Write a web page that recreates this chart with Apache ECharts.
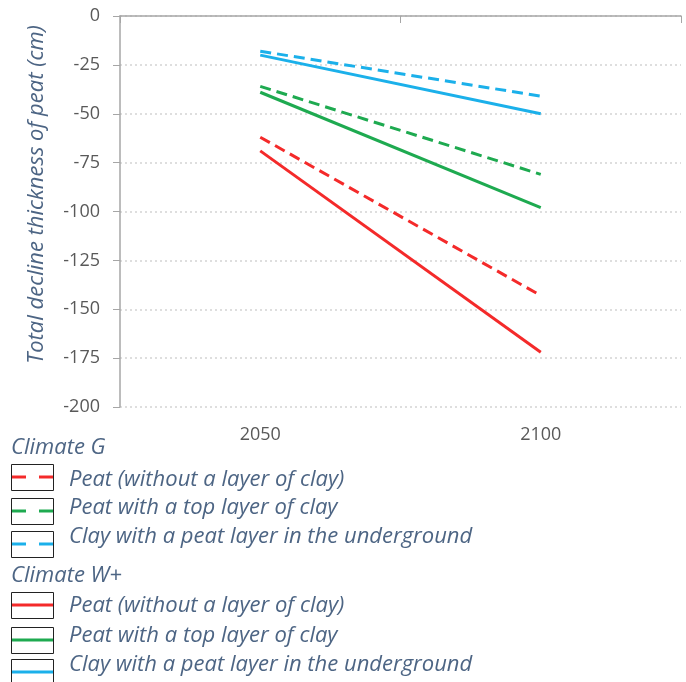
<!DOCTYPE html>
<html><head><meta charset="utf-8">
<script src="https://cdn.jsdelivr.net/npm/echarts@6/dist/echarts.min.js"></script>
<style>html,body{margin:0;padding:0;background:#fff}#c{width:686px;height:682px}</style>
</head><body><div id="c"></div>
<script>
const categories = ['2050', '2100'];
const yTicksMin = -200, yTicksMax = 0, yTickStep = 25;
const yTitle = 'Total decline thickness of peat (cm)';
const groupG = 'Climate G';
const groupW = 'Climate W+';
const seriesNames = ['Peat (without a layer of clay)', 'Peat with a top layer of clay', 'Clay with a peat layer in the underground'];
const gPeat = [-62, -143];
const gTopClay = [-36, -81];
const gClayPeat = [-18, -41];
const wPeat = [-69, -172];
const wTopClay = [-39, -98];
const wClayPeat = [-20, -50];

const colors = ['#f42a2a', '#1eaa50', '#1bb0ea'];
const textColor = '#4d6584';
const fontFam = '"Open Sans", sans-serif';

function mk(name, data, color, dashed) {
  return {
    name: name, type: 'line', data: data, symbol: 'none', silent: true,
    lineStyle: { color: color, width: 3, type: dashed ? [11, 6] : 'solid', cap: 'butt' },
    z: dashed ? 3 : 2
  };
}

const series = [
  mk('G ' + seriesNames[0], gPeat, colors[0], true),
  mk('G ' + seriesNames[1], gTopClay, colors[1], true),
  mk('G ' + seriesNames[2], gClayPeat, colors[2], true),
  mk('W ' + seriesNames[0], wPeat, colors[0], false),
  mk('W ' + seriesNames[1], wTopClay, colors[1], false),
  mk('W ' + seriesNames[2], wClayPeat, colors[2], false)
];

// custom legend
const graphic = [];
const legendFont = 'italic 22px ' + fontFam;
function addHeader(txt, cy) {
  graphic.push({ type: 'text', style: { x: 11, y: cy, text: txt, font: legendFont, fill: textColor, verticalAlign: 'middle', align: 'left' } });
}
function addRow(label, color, dashed, boxTop, cy) {
  graphic.push({ type: 'rect', shape: { x: 11.5, y: boxTop + 0.5, width: 42, height: 26 }, style: { fill: '#fff', stroke: '#222', lineWidth: 1 } });
  const ly = boxTop + 13;
  if (dashed) {
    graphic.push({ type: 'line', shape: { x1: 12, y1: ly, x2: 26, y2: ly }, style: { stroke: color, lineWidth: 3 } });
    graphic.push({ type: 'line', shape: { x1: 39, y1: ly, x2: 53, y2: ly }, style: { stroke: color, lineWidth: 3 } });
  } else {
    graphic.push({ type: 'line', shape: { x1: 12, y1: ly, x2: 53, y2: ly }, style: { stroke: color, lineWidth: 3 } });
  }
  graphic.push({ type: 'text', style: { x: 69, y: cy, text: label, font: legendFont, fill: textColor, verticalAlign: 'middle', align: 'left' } });
}
addHeader(groupG, 448);
addRow(seriesNames[0], colors[0], true, 464, 480);
addRow(seriesNames[1], colors[1], true, 498, 508);
addRow(seriesNames[2], colors[2], true, 531, 537);
addHeader(groupW, 576);
addRow(seriesNames[0], colors[0], false, 592, 606);
addRow(seriesNames[1], colors[1], false, 627, 636);
addRow(seriesNames[2], colors[2], false, 659, 665);

const chart = echarts.init(document.getElementById('c'), null, { renderer: 'canvas' });
chart.setOption({
  animation: false,
  backgroundColor: '#fff',
  grid: { left: 120, right: 5, top: 16, bottom: 275, containLabel: false },
  xAxis: {
    type: 'category', data: categories, boundaryGap: true,
    axisLine: { lineStyle: { color: '#a6a6a6', width: 1.5 } },
    axisTick: { show: true, length: 7, lineStyle: { color: '#a6a6a6' } },
    axisLabel: { margin: 19, color: '#595959', fontSize: 18, fontFamily: fontFam },
    splitLine: { show: false }
  },
  yAxis: {
    type: 'value', min: yTicksMin, max: yTicksMax, interval: yTickStep,
    name: yTitle, nameLocation: 'middle', nameGap: 72, nameRotate: 90,
    nameTextStyle: { color: textColor, fontSize: 22, fontStyle: 'italic', fontFamily: fontFam, padding: [0, 0, 0, 34] },
    axisLine: { show: true, lineStyle: { color: '#a6a6a6', width: 1.5 } },
    axisTick: { show: true, length: 7, lineStyle: { color: '#a6a6a6' } },
    axisLabel: { margin: 20, color: '#595959', fontSize: 18, fontFamily: fontFam },
    splitLine: { show: true, lineStyle: { color: '#d4d4d4', type: [2, 3], width: 1.5 } }
  },
  series: series,
  graphic: graphic
});
</script></body></html>
